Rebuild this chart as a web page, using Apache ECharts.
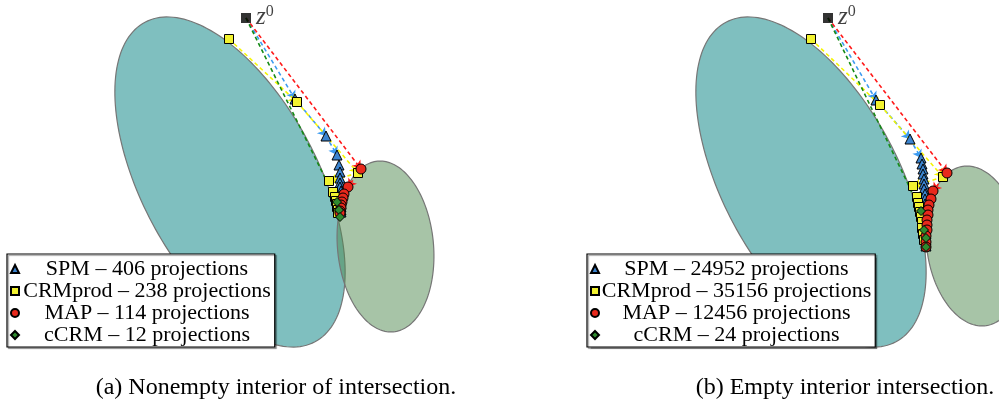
<!DOCTYPE html>
<html>
<head>
<meta charset="utf-8">
<script src="https://cdn.jsdelivr.net/npm/echarts@6/dist/echarts.min.js"></script>
<style>
  html, body { margin: 0; padding: 0; background: #fff; }
  #chart { width: 999px; height: 403px; }
</style>
</head>
<body>
<div id="chart"></div>
<script>
// ellipses: [cx, cy, semi-major, semi-minor, angle (deg)]
var tealEllipseA = [230, 178, 181, 88, -62];
var greenEllipseA = [385.5, 113.5, 85.7, 48, -84.7];
var tealEllipseB = [230, 178, 181, 88, -62];
var greenEllipseB = [393.5, 114, 80.5, 47.6, -81.7];

// starting point
var z0A = [246, 342];
var z0B = [247, 342];

// iterates, panel (a)
var spmA = [[295, 261], [326, 224], [337, 205], [339, 195], [340, 188], [340, 182], [340, 177], [340, 173],
  [341, 169], [341, 165], [341, 162], [341, 159], [341, 156], [341, 153], [341, 150], [341, 148]];
var crmA = [[229, 321], [297, 258], [358, 187], [329, 179], [333, 168], [335, 163], [336, 159], [337, 156],
  [337, 153], [338, 150], [338, 147]];
var mapA = [[361, 191], [348, 173], [344, 166], [343, 162], [342, 158], [341, 155], [341, 152], [340, 149], [340, 147]];
var ccrmA = [[337, 158], [339, 150], [340, 143]];

// iterates, panel (b)
var spmB = [[295, 260], [329, 221], [340, 202], [341, 196], [342, 191], [342, 186], [343, 181], [343, 176],
  [343, 171], [344, 166], [344, 161], [344, 156], [344, 151], [344, 146], [344, 141], [344, 136], [345, 131],
  [345, 126], [345, 120], [345, 114]];
var crmB = [[230, 321], [299, 255], [362, 183], [332, 174], [336, 163], [337, 157], [338, 153], [339, 148],
  [340, 143], [341, 138], [341, 132], [342, 126], [343, 120]];
var mapB = [[366, 187], [352, 169], [350, 161], [348, 155], [347, 150], [347, 145], [346, 140], [346, 135],
  [346, 130], [345, 124], [345, 118], [345, 113]];
var ccrmB = [[340, 149], [343, 130], [345, 122], [345, 113]];

var namesA = ['SPM – 406 projections', 'CRMprod – 238 projections', 'MAP – 114 projections', 'cCRM – 12 projections'];
var namesB = ['SPM – 24952 projections', 'CRMprod – 35156 projections', 'MAP – 12456 projections', 'cCRM – 24 projections'];
var captions = ['(a) Nonempty interior of intersection.', '(b) Empty interior intersection.'];

var FONT = "'Liberation Serif', 'DejaVu Serif', serif";

// SPM, CRMprod, MAP, cCRM
var methods = [
  { symbol: 'triangle', size: 10, fill: '#3b84cf', line: '#3d9bf0', fromStart: true },
  { symbol: 'rect', size: 9, fill: '#f2f230', line: '#f5f500', fromStart: false },
  { symbol: 'circle', size: 10, fill: '#e8291c', line: '#ff1a1a', fromStart: true },
  { symbol: 'diamond', size: 9, fill: '#2f8a2f', line: '#158a15', fromStart: true }
];
var ellipseFills = ['rgba(0,128,128,0.5)', 'rgba(80,137,80,0.5)'];

function renderEllipse(params, api) {
  var cx = api.value(0), cy = api.value(1), a = api.value(2), b = api.value(3);
  var phi = api.value(4) * Math.PI / 180;
  var pts = [];
  for (var k = 0; k < 180; k++) {
    var t = k / 180 * Math.PI * 2;
    pts.push(api.coord([
      cx + a * Math.cos(t) * Math.cos(phi) - b * Math.sin(t) * Math.sin(phi),
      cy + a * Math.cos(t) * Math.sin(phi) + b * Math.sin(t) * Math.cos(phi)
    ]));
  }
  return {
    type: 'polygon',
    shape: { points: pts },
    style: { fill: ellipseFills[params.dataIndex], stroke: '#767676', lineWidth: 1.2 }
  };
}

function panelSeries(gi, teal, green, z0, paths, names) {
  var out = [{
    type: 'custom', xAxisIndex: gi, yAxisIndex: gi, z: 1, silent: true,
    renderItem: renderEllipse, data: [teal, green]
  }];
  // dashed segments between iterates
  methods.forEach(function (m, i) {
    var pts = m.fromStart ? [z0].concat(paths[i]) : paths[i];
    var longSeg = [], shortSeg = [];
    for (var k = 1; k < pts.length; k++) {
      var dx = pts[k][0] - pts[k - 1][0], dy = pts[k][1] - pts[k - 1][1];
      var seg = { coords: [pts[k - 1], pts[k]] };
      if (Math.sqrt(dx * dx + dy * dy) > 12) longSeg.push(seg); else shortSeg.push(seg);
    }
    var ls = { color: m.line, width: 1.6, type: [4, 3], opacity: 1 };
    out.push({
      type: 'lines', coordinateSystem: 'cartesian2d', xAxisIndex: gi, yAxisIndex: gi, z: 2, silent: true,
      symbol: ['none', 'arrow'], symbolSize: 8, lineStyle: ls, data: longSeg
    });
    out.push({
      type: 'lines', coordinateSystem: 'cartesian2d', xAxisIndex: gi, yAxisIndex: gi, z: 2, silent: true,
      symbol: ['none', 'none'], lineStyle: ls, data: shortSeg
    });
  });
  // markers
  methods.forEach(function (m, i) {
    out.push({
      type: 'scatter', name: names[i], xAxisIndex: gi, yAxisIndex: gi, z: 3 + i,
      symbol: m.symbol, symbolSize: m.size,
      itemStyle: { color: m.fill, borderColor: '#000', borderWidth: 1, opacity: 1 },
      data: paths[i]
    });
  });
  out.push({
    type: 'scatter', xAxisIndex: gi, yAxisIndex: gi, z: 8, symbol: 'rect', symbolSize: 10,
    itemStyle: { color: '#000' },
    label: {
      show: true, position: 'right', distance: 5, offset: [0, -1],
      formatter: '{z|z}{s|0}',
      rich: {
        z: { fontFamily: FONT, fontStyle: 'italic', fontSize: 25, lineHeight: 26, verticalAlign: 'bottom', color: '#111' },
        s: { fontFamily: FONT, fontSize: 16, lineHeight: 26, verticalAlign: 'top', color: '#111' }
      }
    },
    data: [z0]
  });
  return out;
}

function legendFor(names, left, textW) {
  return {
    orient: 'vertical', left: left, top: 254, padding: [4, 4, 1, 3], itemGap: 0,
    itemWidth: 8, itemHeight: 8, backgroundColor: '#fff', borderColor: '#000', borderWidth: 1.2,
    shadowColor: 'rgba(0,0,0,0.35)', shadowOffsetX: 1.5, shadowOffsetY: 1.5, shadowBlur: 1,
    selectedMode: false, data: names,
    formatter: function (n) { return '{t|' + n + '}'; },
    textStyle: {
      rich: { t: { width: textW, align: 'center', fontFamily: FONT, fontSize: 22, lineHeight: 22, color: '#000' } }
    }
  };
}

var chart = echarts.init(document.getElementById('chart'));
chart.setOption({
  animation: false,
  backgroundColor: '#fff',
  grid: [
    { left: 0, top: 0, width: 500, height: 360 },
    { left: 581, top: 0, width: 418, height: 360 }
  ],
  xAxis: [
    { gridIndex: 0, type: 'value', min: 0, max: 500, show: false },
    { gridIndex: 1, type: 'value', min: 0, max: 418, show: false }
  ],
  yAxis: [
    { gridIndex: 0, type: 'value', min: 0, max: 360, show: false },
    { gridIndex: 1, type: 'value', min: 0, max: 360, show: false }
  ],
  legend: [legendFor(namesA, 7, 246), legendFor(namesB, 587, 265)],
  graphic: [
    { type: 'text', x: 276, y: 388, style: { text: captions[0], font: '24px ' + FONT, fill: '#000', textAlign: 'center', textVerticalAlign: 'middle' } },
    { type: 'text', x: 845, y: 388, style: { text: captions[1], font: '24px ' + FONT, fill: '#000', textAlign: 'center', textVerticalAlign: 'middle' } }
  ],
  series: panelSeries(0, tealEllipseA, greenEllipseA, z0A, [spmA, crmA, mapA, ccrmA], namesA)
    .concat(panelSeries(1, tealEllipseB, greenEllipseB, z0B, [spmB, crmB, mapB, ccrmB], namesB))
});
</script>
</body>
</html>
